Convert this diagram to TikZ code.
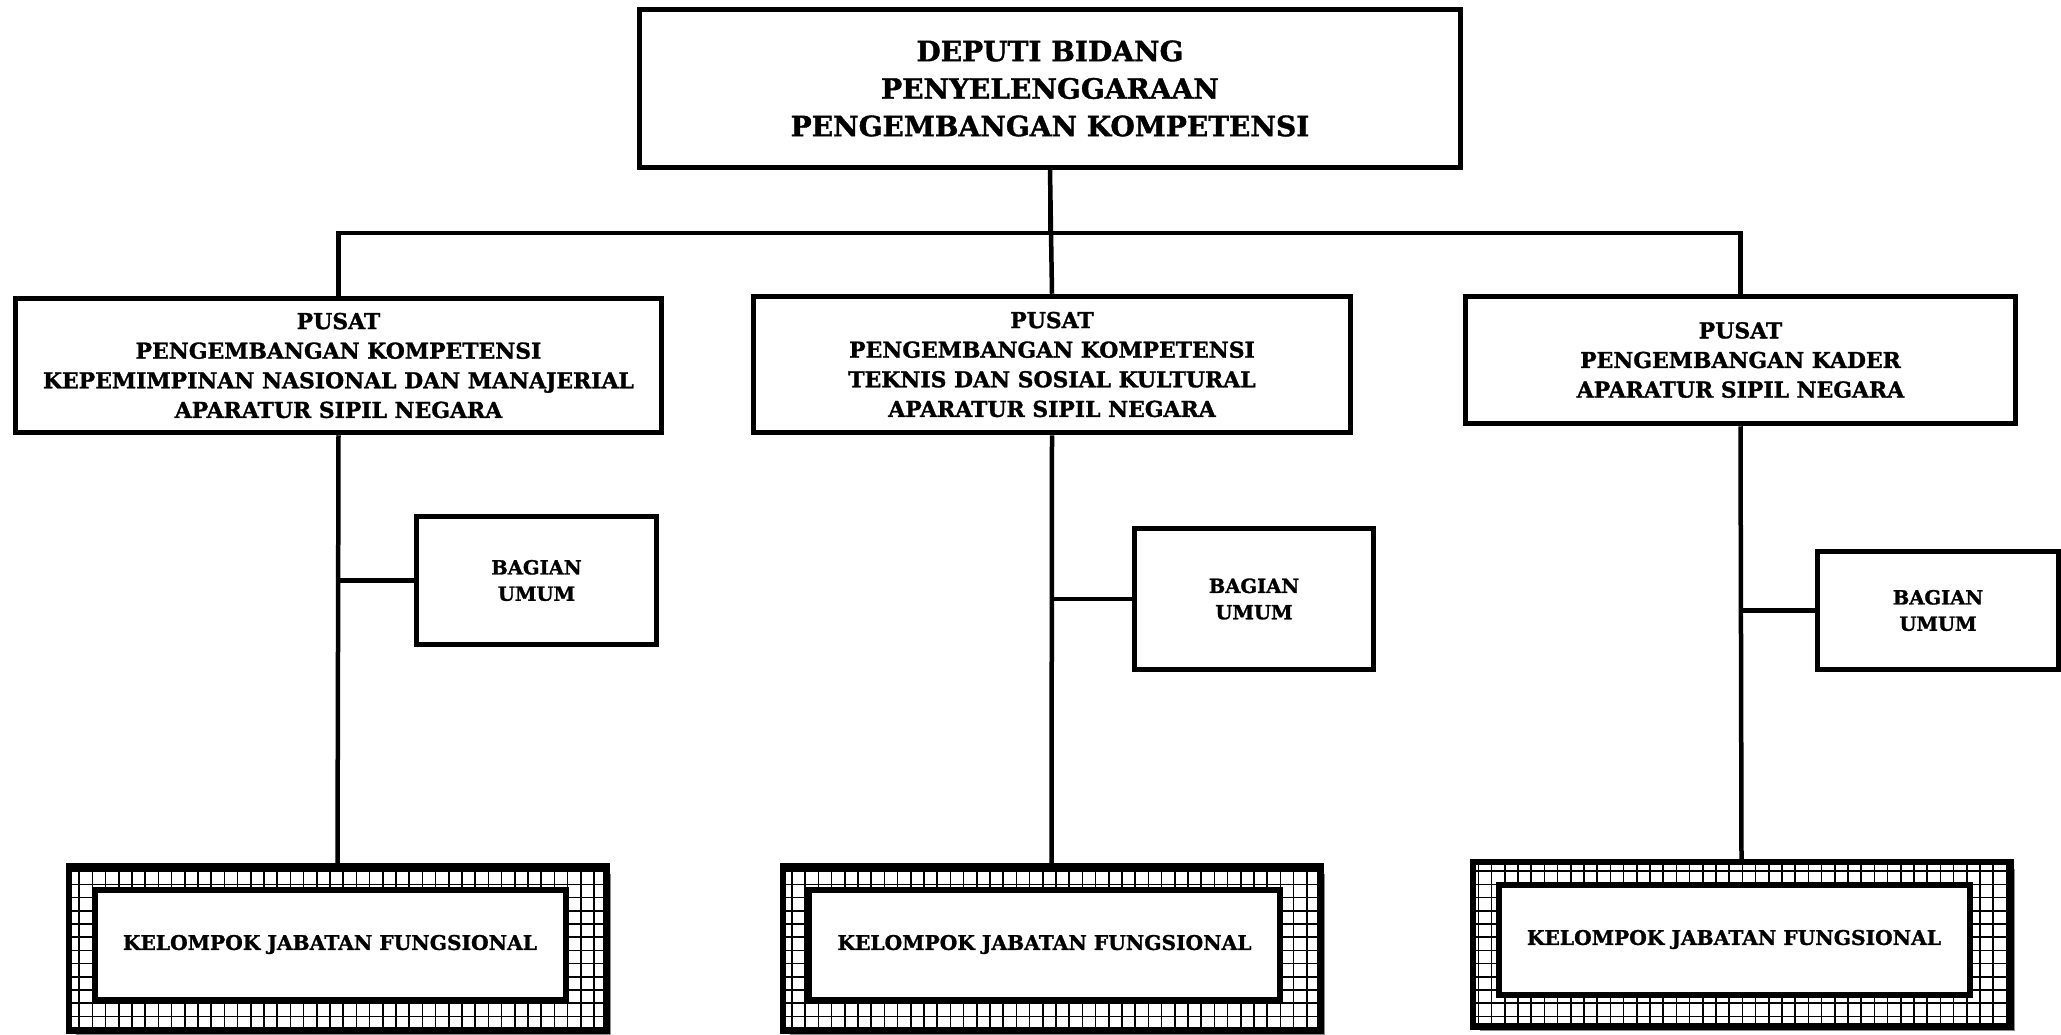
\documentclass[tikz,border=0pt]{standalone}
\usepackage{fontspec}
\setmainfont{DejaVu Serif}[BoldFeatures={FakeBold=1.3}]
\usetikzlibrary{shadows}
\begin{document}
\begin{tikzpicture}[x=1pt,y=-1pt,
  box/.style={draw, line width=5.5pt, fill=white, inner sep=0pt, align=center},
  conn/.style={line width=4.5pt},
  toptext/.style={font=\fontsize{28}{37.5}\selectfont\bfseries},
  pusattext/.style={font=\fontsize{21.9}{29.6}\selectfont\bfseries},
  bagtext/.style={font=\fontsize{19.5}{26.3}\selectfont\bfseries},
  kjftext/.style={font=\fontsize{20.2}{24}\selectfont\bfseries},
  kjfouter/.style={draw, line width=4.5pt, fill=white, inner sep=0pt,
    minimum width=535pt, minimum height=162pt,
    drop shadow={shadow xshift=6pt, shadow yshift=-6pt, fill=black!45, opacity=1}},
  kjfinner/.style={box, line width=6pt, minimum width=471pt, minimum height=110pt, kjftext},
  gridline/.style={line width=1.6pt}
]
\useasboundingbox (0,0) rectangle (2061,1035);
\clip (0,0) rectangle (2061,1035);

% top
\node[box, minimum width=821pt, minimum height=158pt, toptext] (top) at (1050,88.5)
  {DEPUTI BIDANG\\PENYELENGGARAAN\\PENGEMBANGAN KOMPETENSI};

% pusat
\node[box, minimum width=646pt, minimum height=134pt, pusattext] (p1) at (338.5,365.5)
  {PUSAT\\PENGEMBANGAN KOMPETENSI\\KEPEMIMPINAN NASIONAL DAN MANAJERIAL\\APARATUR SIPIL NEGARA};
\node[box, minimum width=597pt, minimum height=136pt, pusattext] (p2) at (1052,364.5)
  {PUSAT\\PENGEMBANGAN KOMPETENSI\\TEKNIS DAN SOSIAL KULTURAL\\APARATUR SIPIL NEGARA};
\node[box, minimum width=550pt, minimum height=127pt, pusattext] (p3) at (1740.5,360)
  {PUSAT\\PENGEMBANGAN KADER\\APARATUR SIPIL NEGARA};

% bagian umum
\node[box, minimum width=240pt, minimum height=128pt, bagtext] (b1) at (536.5,580.5) {BAGIAN\\UMUM};
\node[box, minimum width=239pt, minimum height=141pt, bagtext] (b2) at (1254,599) {BAGIAN\\UMUM};
\node[box, minimum width=241pt, minimum height=118pt, bagtext] (b3) at (1938,610.5) {BAGIAN\\UMUM};

% kelompok jabatan fungsional
\node[kjfouter] (k1) at (337.5,948.5) {};
\node[kjfouter] (k2) at (1051.5,948.5) {};
\node[kjfouter] (k3) at (1741.5,944) {};
\foreach \k in {k1,k2,k3}{
  \begin{scope}
    \clip (\k.south west) rectangle (\k.north east);
    \draw[gridline, step=13.2pt] ([shift={(-20,-20)}]\k.north west) grid ([shift={(20,20)}]\k.south east);
  \end{scope}
  \draw[line width=4.5pt] (\k.south west) rectangle (\k.north east);
}
\node[kjfinner] (ki1) at (330,944.5) {KELOMPOK JABATAN FUNGSIONAL};
\node[kjfinner] (ki2) at (1044.5,944.5) {KELOMPOK JABATAN FUNGSIONAL};
\node[kjfinner] (ki3) at (1734,939.5) {KELOMPOK JABATAN FUNGSIONAL};

% connectors
\coordinate (bus) at (0,233);
\draw[conn] (top.south) -- (p2.north);
\draw[conn] (p1.north) -- (p1.north |- bus) -| (top.south);
\draw[conn] (p3.north) -- (p3.north |- bus) -| (top.south);
\draw[conn] (p1.south) -- (k1.north);
\draw[conn] (p2.south) -- (k2.north);
\draw[conn] (p3.south) -- (k3.north);
\draw[conn] (b1.west) -- (b1.west -| p1.south);
\draw[conn] (b2.west) -- (b2.west -| p2.south);
\draw[conn] (b3.west) -- (b3.west -| p3.south);
\end{tikzpicture}
\end{document}
